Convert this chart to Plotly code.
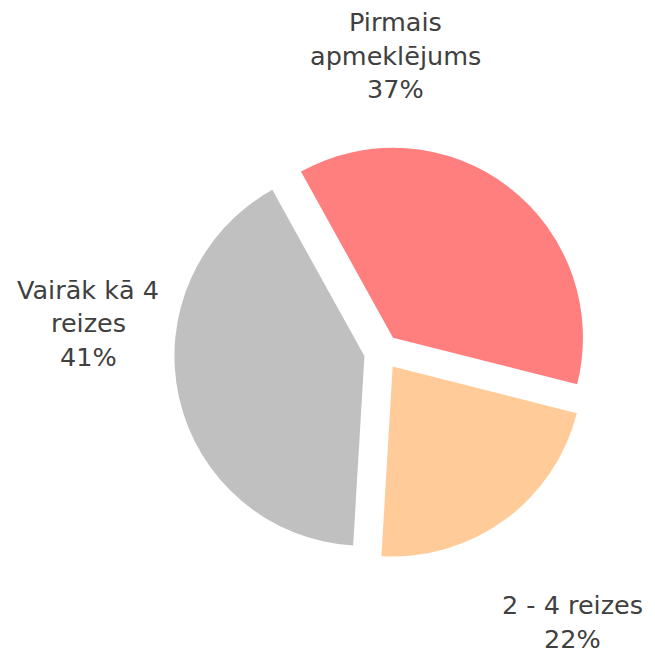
import plotly.graph_objects as go

labels = ["Pirmais apmeklējums", "2 - 4 reizes", "Vairāk kā 4 reizes"]
label_lines = [["Pirmais", "apmeklējums"], ["2 - 4 reizes"], ["Vairāk kā 4", "reizes"]]
values = [37, 22, 41]
colors = ["#FF7F7F", "#FFCC99", "#C0C0C0"]

W, H = 655, 651
OFF = 8  # page body margin

def px(x):
    return (x - OFF) / W

def py(y):
    return 1 - (y - OFF) / H

fig = go.Figure(go.Pie(
    labels=labels,
    values=values,
    sort=False,
    direction="clockwise",
    rotation=-29,
    pull=[0.095, 0.095, 0.095],
    marker=dict(colors=colors, line=dict(width=0)),
    textinfo="none",
    hoverinfo="label+percent",
    domain=dict(x=[px(174), px(590)], y=[py(560), py(144)]),
    showlegend=False,
))

# label anchor (page pixels): centre x, first line centre y
ann_pos = [(395, 22), (572, 605), (88, 290)]
LINE = 33.5
total = sum(values)
for lines, v, (ax, ay) in zip(label_lines, values, ann_pos):
    all_lines = lines + [f"{round(100 * v / total)}%"]
    for i, t in enumerate(all_lines):
        fig.add_annotation(
            x=px(ax), y=py(ay + i * LINE), xref="paper", yref="paper",
            text=t, showarrow=False, xanchor="center", yanchor="middle",
            font=dict(family="DejaVu Sans", size=25.5, color="#404040"),
        )

fig.update_layout(
    width=W, height=H,
    margin=dict(l=0, r=0, t=0, b=0),
    paper_bgcolor="white",
    plot_bgcolor="white",
)

fig.write_html("out.html")
